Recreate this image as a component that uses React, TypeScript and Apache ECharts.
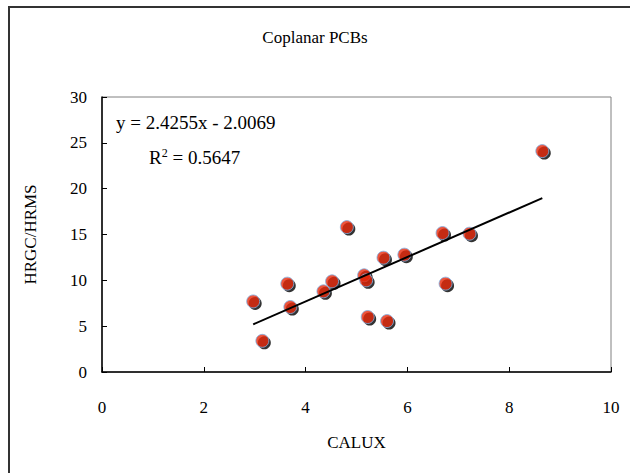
import React, { useEffect, useRef } from "react";
import * as echarts from "echarts";

const title = "Coplanar PCBs";
const xName = "CALUX";
const yName = "HRGC/HRMS";
const caluxValues = [2.97, 3.15, 3.64, 3.7, 4.35, 4.52, 4.81, 5.15, 5.19, 5.22, 5.53, 5.6, 5.94, 6.69, 6.75, 7.22, 8.65];
const hrmsValues = [7.7, 3.4, 9.64, 7.09, 8.8, 9.89, 15.81, 10.55, 10.0, 6.0, 12.47, 5.56, 12.8, 15.16, 9.64, 15.09, 24.1];
const slope = 2.4255;
const intercept = -2.0069;
const eqText = "y = 2.4255x - 2.0069";
const r2Value = "0.5647";

const FONT = "'Liberation Serif', 'Times New Roman', serif";

export default function App() {
  const ref = useRef<HTMLDivElement>(null);
  useEffect(() => {
    if (!ref.current) return;
    const chart = echarts.init(ref.current, undefined, { renderer: "svg" });
    const pts = caluxValues.map((x, i) => [x, hrmsValues[i]]);
    const xmin = Math.min(...caluxValues);
    const xmax = Math.max(...caluxValues);
    const trend = [
      [xmin, slope * xmin + intercept],
      [xmax, slope * xmax + intercept],
    ];
    chart.setOption({
      animation: false,
      backgroundColor: "#ffffff",
      textStyle: { fontFamily: FONT },
      title: {
        text: title,
        left: 310,
        textAlign: "center",
        top: 24,
        textStyle: { fontFamily: FONT, fontSize: 17, fontWeight: "normal", color: "#000" },
      },
      grid: {
        left: 102,
        top: 97,
        width: 509,
        height: 275,
        show: true,
        borderColor: "#808080",
        borderWidth: 1,
        backgroundColor: "transparent",
      },
      xAxis: {
        type: "value",
        min: 0,
        max: 10,
        interval: 2,
        name: xName,
        nameLocation: "middle",
        nameGap: 62,
        nameTextStyle: { fontFamily: FONT, fontSize: 17, color: "#000" },
        axisLine: { show: true, lineStyle: { color: "#000", width: 1.5 } },
        axisTick: { show: true, inside: true, length: 5, lineStyle: { color: "#000" } },
        axisLabel: { fontFamily: FONT, fontSize: 17, color: "#000", margin: 27 },
        splitLine: { show: false },
      },
      yAxis: {
        type: "value",
        min: 0,
        max: 30,
        interval: 5,
        name: yName,
        nameLocation: "middle",
        nameGap: 63,
        nameRotate: 90,
        nameTextStyle: { fontFamily: FONT, fontSize: 17, color: "#000" },
        axisLine: { show: true, lineStyle: { color: "#000", width: 1.5 } },
        axisTick: { show: true, inside: true, length: 5, lineStyle: { color: "#000" } },
        axisLabel: { fontFamily: FONT, fontSize: 17, color: "#000", margin: 15 },
        splitLine: { show: false },
      },
      graphic: [
        {
          type: "rect",
          shape: { x: 9, y: 7, width: 700, height: 600 },
          style: { fill: "none", stroke: "#333", lineWidth: 2 },
          silent: true,
        },
        {
          type: "text",
          x: 116,
          y: 122,
          style: {
            text: eqText,
            font: `19px ${FONT}`,
            fill: "#000",
            verticalAlign: "middle",
          },
        },
        {
          type: "text",
          x: 149,
          y: 157,
          style: {
            text: `{a|R}{s|2}{a| = ${r2Value}}`,
            fill: "#000",
            verticalAlign: "middle",
            rich: {
              a: { fontFamily: FONT, fontSize: 19, color: "#000" },
              s: { fontFamily: FONT, fontSize: 12, color: "#000", verticalAlign: "top", padding: [0, 0, 9, 0] },
            },
          },
        },
      ],
      series: [
        {
          type: "scatter",
          data: pts,
          symbol: "circle",
          symbolSize: 13,
          symbolOffset: [2, 2],
          itemStyle: { color: "#000" },
          z: 2,
        },
        {
          type: "scatter",
          data: pts,
          symbol: "circle",
          symbolSize: 13,
          itemStyle: { color: "#e8290b", borderColor: "#7fb3e6", borderWidth: 1 },
          z: 3,
        },
        {
          type: "line",
          data: trend,
          symbol: "none",
          lineStyle: { color: "#000", width: 2 },
          z: 4,
        },
      ],
    });
    return () => chart.dispose();
  }, []);
  return <div ref={ref} style={{ position: "fixed", left: 0, top: 0, width: 630, height: 473 }} />;
}
